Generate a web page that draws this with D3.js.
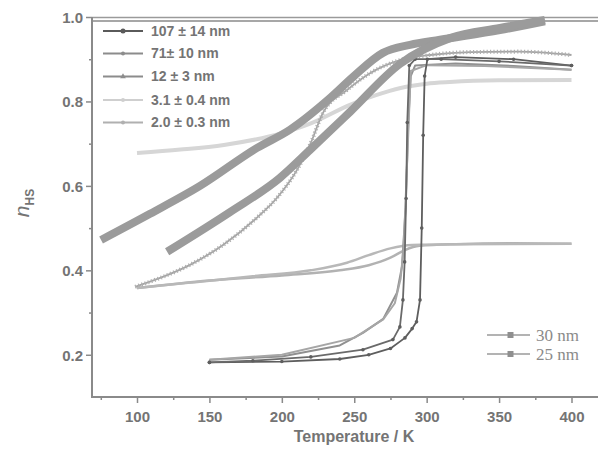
<!DOCTYPE html>
<html><head><meta charset="utf-8">
<script src="https://cdn.jsdelivr.net/npm/d3@7/dist/d3.min.js"></script>
<style>
html,body{margin:0;padding:0;background:#fff;}
svg{display:block;}
</style></head>
<body>
<svg id="chart" width="598" height="450"></svg>
<script>
// ---------- DATA (T in K, n_HS) ----------
const xTickValues = [100, 150, 200, 250, 300, 350, 400];
const xMinorTicks = [75, 125, 175, 225, 275, 325, 375];
const yTickValues = [0.2, 0.4, 0.6, 0.8, 1.0];
const yMinorTicks = [0.3, 0.5, 0.7, 0.9];

const legendLabels = ["107 \u00b1 14 nm", "71\u00b1 10 nm", "12 \u00b1 3 nm", "3.1 \u00b1 0.4 nm", "2.0 \u00b1 0.3 nm"];
const legend2Labels = ["30 nm", "25 nm"];

// 107 ± 14 nm (heating + cooling)
const s107Heat = [[150,0.182],[200,0.184],[240,0.19],[260,0.2],[275,0.215],[285,0.24],[290,0.262],[293,0.278],[295.4,0.33],[296.6,0.5],[297.6,0.72],[298.6,0.86],[300.5,0.9],[320,0.905],[360,0.9],[400,0.885]];
const s107Cool = [[400,0.885],[350,0.895],[310,0.9],[292,0.9],[288,0.885],[286.6,0.75],[285.8,0.57],[284.8,0.42],[283.6,0.33],[281.5,0.266],[276.7,0.236],[256,0.212],[220,0.195],[180,0.186],[150,0.182]];
// 71 ± 10 nm
const s71Heat = [[150,0.188],[200,0.196],[240,0.222],[256,0.252],[270,0.285],[279.5,0.347],[283,0.41],[285.5,0.55],[287.3,0.75],[289,0.86],[292,0.885],[320,0.89],[360,0.884],[400,0.875]];
const s71Cool = [[400,0.875],[340,0.884],[300,0.886],[289,0.872],[287,0.7],[285.3,0.55],[284,0.45],[282,0.38],[278,0.322],[270,0.284],[250,0.24],[200,0.2],[150,0.188]];
// 12 ± 3 nm
const s12 = [[98.7,0.361],[116,0.382],[136.6,0.413],[159.4,0.46],[182.9,0.525],[196.7,0.572],[210.5,0.638],[219.4,0.697],[228.4,0.773],[245,0.827],[260.9,0.867],[281.6,0.898],[302.3,0.91],[330,0.917],[364,0.918],[400,0.91]];
// 3.1 ± 0.4 nm
const s31 = [[100,0.678],[130,0.686],[160,0.697],[200,0.725],[220,0.748],[247,0.792],[265,0.815],[282,0.832],[300,0.842],[316,0.846],[350,0.85],[400,0.851]];
// 2.0 ± 0.3 nm
const s20Heat = [[100,0.358],[150,0.376],[200,0.388],[240,0.4],[260,0.412],[275,0.43],[285,0.448],[295,0.458],[320,0.462],[360,0.464],[400,0.463]];
const s20Cool = [[400,0.463],[320,0.462],[290,0.46],[275,0.452],[260,0.436],[245,0.418],[220,0.4],[180,0.386],[140,0.372],[100,0.358]];
// 30 nm / 25 nm (thick)
const s30 = [[75.2,0.472],[109,0.534],[143.5,0.6],[182.9,0.69],[205.6,0.733],[233.3,0.808],[249.8,0.86],[269.8,0.915],[288.5,0.934],[309.2,0.946],[350.6,0.969],[381.6,0.99]];
const s25 = [[120.8,0.444],[164.2,0.538],[198.7,0.619],[219.4,0.685],[247,0.775],[281.6,0.889],[316.1,0.95],[350.6,0.974],[381.6,0.993]];

// ---------- CHART ----------
const svg = d3.select("#chart");
const x = d3.scaleLinear().domain([100, 400]).range([137, 571.5]);
const y = d3.scaleLinear().domain([0.1, 1.0]).range([397, 17]);
const axisColor = "#8a8a8a";
const textColor = "#747474";
const font = "'Liberation Sans', Arial, sans-serif";

const line = d3.line().x(d => x(d[0])).y(d => y(d[1])).curve(d3.curveMonotoneX);
const lineL = d3.line().x(d => x(d[0])).y(d => y(d[1])).curve(d3.curveLinear);

// top double frame line
svg.append("line").attr("x1", 92).attr("x2", 598).attr("y1", 17.5).attr("y2", 17.5).attr("stroke", "#9a9a9a").attr("stroke-width", 1.6);
svg.append("line").attr("x1", 92).attr("x2", 598).attr("y1", 21).attr("y2", 21).attr("stroke", "#8a8a8a").attr("stroke-width", 1.6);

// axes
const gx = svg.append("g").attr("transform", "translate(0,397)");
gx.call(d3.axisBottom(x).tickValues(xTickValues).tickSize(6).tickPadding(8).tickFormat(d3.format("d")));
const gxm = svg.append("g").attr("transform", "translate(0,397)");
gxm.call(d3.axisBottom(x).tickValues(xMinorTicks).tickSize(3).tickFormat(""));
const gy = svg.append("g").attr("transform", "translate(92,0)");
gy.call(d3.axisLeft(y).tickValues(yTickValues).tickSize(6).tickPadding(3).tickFormat(d3.format(".1f")));
const gym = svg.append("g").attr("transform", "translate(92,0)");
gym.call(d3.axisLeft(y).tickValues(yMinorTicks).tickSize(3).tickFormat(""));
[gx, gxm, gy, gym].forEach(g => {
  g.select(".domain").remove();
  g.selectAll(".tick line").attr("stroke", axisColor).attr("stroke-width", 1.5);
  g.selectAll(".tick text").attr("fill", textColor).attr("font-family", font).attr("font-weight", "bold").attr("font-size", 15);
});
gy.selectAll(".tick text").attr("dy", "0.35em");
svg.append("line").attr("x1", 92).attr("x2", 598).attr("y1", 397).attr("y2", 397).attr("stroke", axisColor).attr("stroke-width", 2);
svg.append("line").attr("x1", 92).attr("x2", 92).attr("y1", 17).attr("y2", 398).attr("stroke", axisColor).attr("stroke-width", 2);

// axis titles
svg.append("text").attr("x", 354).attr("y", 442).attr("text-anchor", "middle")
  .attr("fill", textColor).attr("font-family", font).attr("font-weight", "bold").attr("font-size", 16)
  .text("Temperature / K");
const yt = svg.append("text").attr("transform", "translate(29,203) rotate(-90)").attr("text-anchor", "middle")
  .attr("fill", textColor).attr("font-family", font);
yt.append("tspan").attr("font-style", "italic").attr("font-size", 21).text("n");
yt.append("tspan").attr("font-size", 12).attr("dy", 5).attr("font-weight", "bold").text("HS");

// series
const plot = svg.append("g");
function drawSeries(data, color, width, gen) {
  plot.append("path").datum(data).attr("d", gen || line).attr("fill", "none")
    .attr("stroke", color).attr("stroke-width", width).attr("stroke-linejoin", "round");
}
// 3.1 nm light
drawSeries(s31, "#d6d6d6", 4);
// 2.0 nm
drawSeries(s20Heat, "#b2b2b2", 2.5);
drawSeries(s20Cool, "#b8b8b8", 2.5);
// 12 nm with dense marker look
drawSeries(s12, "#a4a4a4", 1.8);
plot.append("path").datum(s12).attr("d", line).attr("fill", "none").attr("stroke", "#b0b0b0")
  .attr("stroke-width", 4).attr("stroke-dasharray", "1.2,2.2");
// 71 nm
drawSeries(s71Heat, "#909090", 2, lineL);
drawSeries(s71Cool, "#a6a6a6", 2, lineL);
// 107 nm
drawSeries(s107Heat, "#5e5e5e", 1.8, lineL);
drawSeries(s107Cool, "#6a6a6a", 1.8, lineL);
plot.selectAll("circle.m107").data(s107Heat.concat(s107Cool)).enter().append("circle")
  .attr("cx", d => x(d[0])).attr("cy", d => y(d[1])).attr("r", 1.8).attr("fill", "#5e5e5e");
// thick 30 nm / 25 nm
drawSeries(s30, "#9b9b9b", 8);
drawSeries(s25, "#9b9b9b", 8);

// legend top-left
const legColors = ["#5a5a5a", "#8c8c8c", "#8c8c8c", "#cfcfcf", "#b0b0b0"];
const legY = [31, 53.5, 76.5, 100, 122.5];
const leg = svg.append("g");
legendLabels.forEach((lab, i) => {
  leg.append("line").attr("x1", 103).attr("x2", 143).attr("y1", legY[i]).attr("y2", legY[i])
    .attr("stroke", legColors[i]).attr("stroke-width", 1.8);
  if (i === 2) {
    leg.append("path").attr("d", d3.symbol(d3.symbolTriangle, 14)()).attr("transform", `translate(123,${legY[i]})`).attr("fill", legColors[i]);
  } else {
    leg.append("circle").attr("cx", 123).attr("cy", legY[i]).attr("r", i === 0 ? 2.5 : 2).attr("fill", legColors[i]);
  }
  leg.append("text").attr("x", 151).attr("y", legY[i]).attr("dy", "0.35em")
    .attr("fill", textColor).attr("font-family", font).attr("font-weight", "bold").attr("font-size", 14)
    .text(lab);
});

// legend bottom-right
const leg2Y = [335, 354];
legend2Labels.forEach((lab, i) => {
  svg.append("line").attr("x1", 487).attr("x2", 530).attr("y1", leg2Y[i]).attr("y2", leg2Y[i])
    .attr("stroke", "#9a9a9a").attr("stroke-width", 1.5);
  svg.append("rect").attr("x", 507.5).attr("y", leg2Y[i] - 3).attr("width", 6).attr("height", 6).attr("fill", "#8f8f8f");
  svg.append("text").attr("x", 536).attr("y", leg2Y[i]).attr("dy", "0.35em")
    .attr("fill", "#8a8a8a").attr("font-family", "'Liberation Serif', 'Times New Roman', serif").attr("font-size", 17)
    .text(lab);
});
</script>
</body></html>
